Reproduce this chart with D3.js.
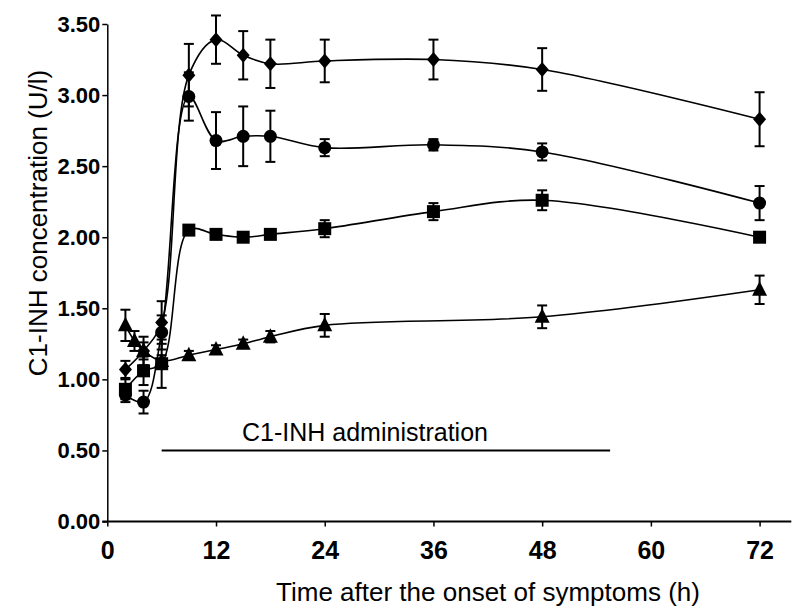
<!DOCTYPE html>
<html>
<head>
<meta charset="utf-8">
<script src="https://cdn.jsdelivr.net/npm/d3@7"></script>
<style>
  body { margin: 0; background: #fff; }
  text { font-family: "Liberation Sans", Arial, sans-serif; fill: #000; }
</style>
</head>
<body>
<svg id="chart"></svg>
<script>
// Time points (h) and C1-INH concentration (U/l), mean and error, per series
const diamondTimes = [2, 4, 6, 9, 12, 15, 18, 24, 36, 48, 72];
const diamondValues = [1.07, 1.20, 1.40, 3.14, 3.39, 3.28, 3.22, 3.24, 3.25, 3.18, 2.83];
const diamondErrors = [0.06, 0.10, 0.15, 0.22, 0.17, 0.17, 0.17, 0.15, 0.14, 0.15, 0.19];

const circleTimes = [2, 4, 6, 9, 12, 15, 18, 24, 36, 48, 72];
const circleValues = [0.89, 0.84, 1.33, 2.99, 2.68, 2.71, 2.71, 2.63, 2.65, 2.60, 2.24];
const circleErrors = [0.05, 0.08, 0.12, 0.17, 0.20, 0.21, 0.18, 0.06, 0.04, 0.06, 0.12];

const squareTimes = [2, 4, 6, 9, 12, 15, 18, 24, 36, 48, 72];
const squareValues = [0.93, 1.06, 1.11, 2.05, 2.02, 2.00, 2.02, 2.06, 2.18, 2.26, 2.00];
const squareErrors = [0.07, 0.10, 0.17, 0.02, 0.02, 0.02, 0.03, 0.06, 0.06, 0.07, 0.02];

const triangleTimes = [2, 3, 4, 6, 9, 12, 15, 18, 24, 48, 72];
const triangleValues = [1.38, 1.27, 1.20, 1.13, 1.17, 1.21, 1.25, 1.30, 1.38, 1.44, 1.63];
const triangleErrors = [0.11, 0.07, 0.06, 0.04, 0.03, 0.03, 0.03, 0.04, 0.08, 0.08, 0.10];

const xTicks = [0, 12, 24, 36, 48, 60, 72];
const yTicks = [0, 0.5, 1, 1.5, 2, 2.5, 3, 3.5];

// administration period bar
const adminTimes = [6, 55.5];
const adminLevel = 0.5;
const adminLabel = "C1-INH administration";

const width = 802, height = 607;

const svg = d3.select('#chart')
  .attr('width', width)
  .attr('height', height)
  .style('background-color', '#fff');

const x = d3.scaleLinear().domain([0, 75.5]).range([107.3, 791.3]);
const y = d3.scaleLinear().domain([0, 3.5]).range([521.5, 24]);

// marker shapes
const shapes = {
  diamond: 'M0,-7.5L6.5,0L0,7.5L-6.5,0Z',
  circle: d3.symbol().type(d3.symbolCircle).size(Math.PI * 6.5 * 6.5)(),
  square: 'M-6.5,-6.5H6.5V6.5H-6.5Z',
  triangle: 'M0,-8.5L7.5,6L-7.5,6Z'
};

const series = [
  { shape: 'diamond', t: diamondTimes, v: diamondValues, e: diamondErrors },
  { shape: 'circle', t: circleTimes, v: circleValues, e: circleErrors },
  { shape: 'square', t: squareTimes, v: squareValues, e: squareErrors },
  { shape: 'triangle', t: triangleTimes, v: triangleValues, e: triangleErrors }
].map(s => ({ shape: s.shape, points: s.t.map((t, i) => ({ t, v: s.v[i], e: s.e[i] })) }));

// Axes
const xAxis = svg.append('g')
  .attr('transform', `translate(0,${y(0)})`)
  .call(d3.axisBottom(x).tickValues(xTicks).tickSize(5).tickSizeOuter(0).tickPadding(15));
xAxis.select('.domain').attr('stroke-width', 2).attr('d', `M${x(0) - 5},0H${x.range()[1]}`);
xAxis.selectAll('.tick line').attr('stroke-width', 1.5);
xAxis.selectAll('text').style('font-size', '25px').style('font-weight', 'bold');

const yAxis = svg.append('g')
  .attr('transform', `translate(${x(0)},0)`)
  .call(d3.axisLeft(y).tickValues(yTicks).tickFormat(d3.format('.2f')).tickSize(5).tickSizeOuter(0).tickPadding(2));
yAxis.select('.domain').attr('stroke-width', 1.5);
yAxis.selectAll('.tick line').attr('stroke-width', 1.5);
yAxis.selectAll('text').style('font-size', '22px').style('font-weight', 'bold');

// Axis titles
svg.append('text')
  .attr('x', 488)
  .attr('y', 601)
  .attr('text-anchor', 'middle')
  .style('font-size', '26px')
  .text('Time after the onset of symptoms (h)');

svg.append('text')
  .attr('transform', 'translate(47,223) rotate(-90)')
  .attr('text-anchor', 'middle')
  .style('font-size', '26px')
  .text('C1-INH concentration (U/l)');

// Administration bar
svg.append('line')
  .attr('x1', x(adminTimes[0]))
  .attr('x2', x(adminTimes[1]))
  .attr('y1', y(adminLevel))
  .attr('y2', y(adminLevel))
  .attr('stroke', '#000')
  .attr('stroke-width', 2);

svg.append('text')
  .attr('x', 365)
  .attr('y', 441)
  .attr('text-anchor', 'middle')
  .style('font-size', '25px')
  .text(adminLabel);

// Lines
const line = d3.line()
  .x(d => x(d.t))
  .y(d => y(d.v))
  .curve(d3.curveCatmullRom.alpha(0.5));

const plot = svg.append('g');

series.forEach(s => {
  const g = plot.append('g');

  g.append('path')
    .datum(s.points)
    .attr('fill', 'none')
    .attr('stroke', '#000')
    .attr('stroke-width', 1.6)
    .attr('d', line);

  // error bars
  const bars = g.selectAll('.err')
    .data(s.points)
    .enter()
    .append('g')
    .attr('class', 'err')
    .attr('stroke', '#000')
    .attr('stroke-width', 2);

  bars.append('line')
    .attr('x1', d => x(d.t)).attr('x2', d => x(d.t))
    .attr('y1', d => y(d.v + d.e)).attr('y2', d => y(d.v - d.e));
  bars.append('line')
    .attr('x1', d => x(d.t) - 5).attr('x2', d => x(d.t) + 5)
    .attr('y1', d => y(d.v + d.e)).attr('y2', d => y(d.v + d.e));
  bars.append('line')
    .attr('x1', d => x(d.t) - 5).attr('x2', d => x(d.t) + 5)
    .attr('y1', d => y(d.v - d.e)).attr('y2', d => y(d.v - d.e));

  // markers
  g.selectAll('.mark')
    .data(s.points)
    .enter()
    .append('path')
    .attr('class', 'mark')
    .attr('d', shapes[s.shape])
    .attr('transform', d => `translate(${x(d.t)},${y(d.v)})`)
    .attr('fill', '#000');
});
</script>
</body>
</html>
